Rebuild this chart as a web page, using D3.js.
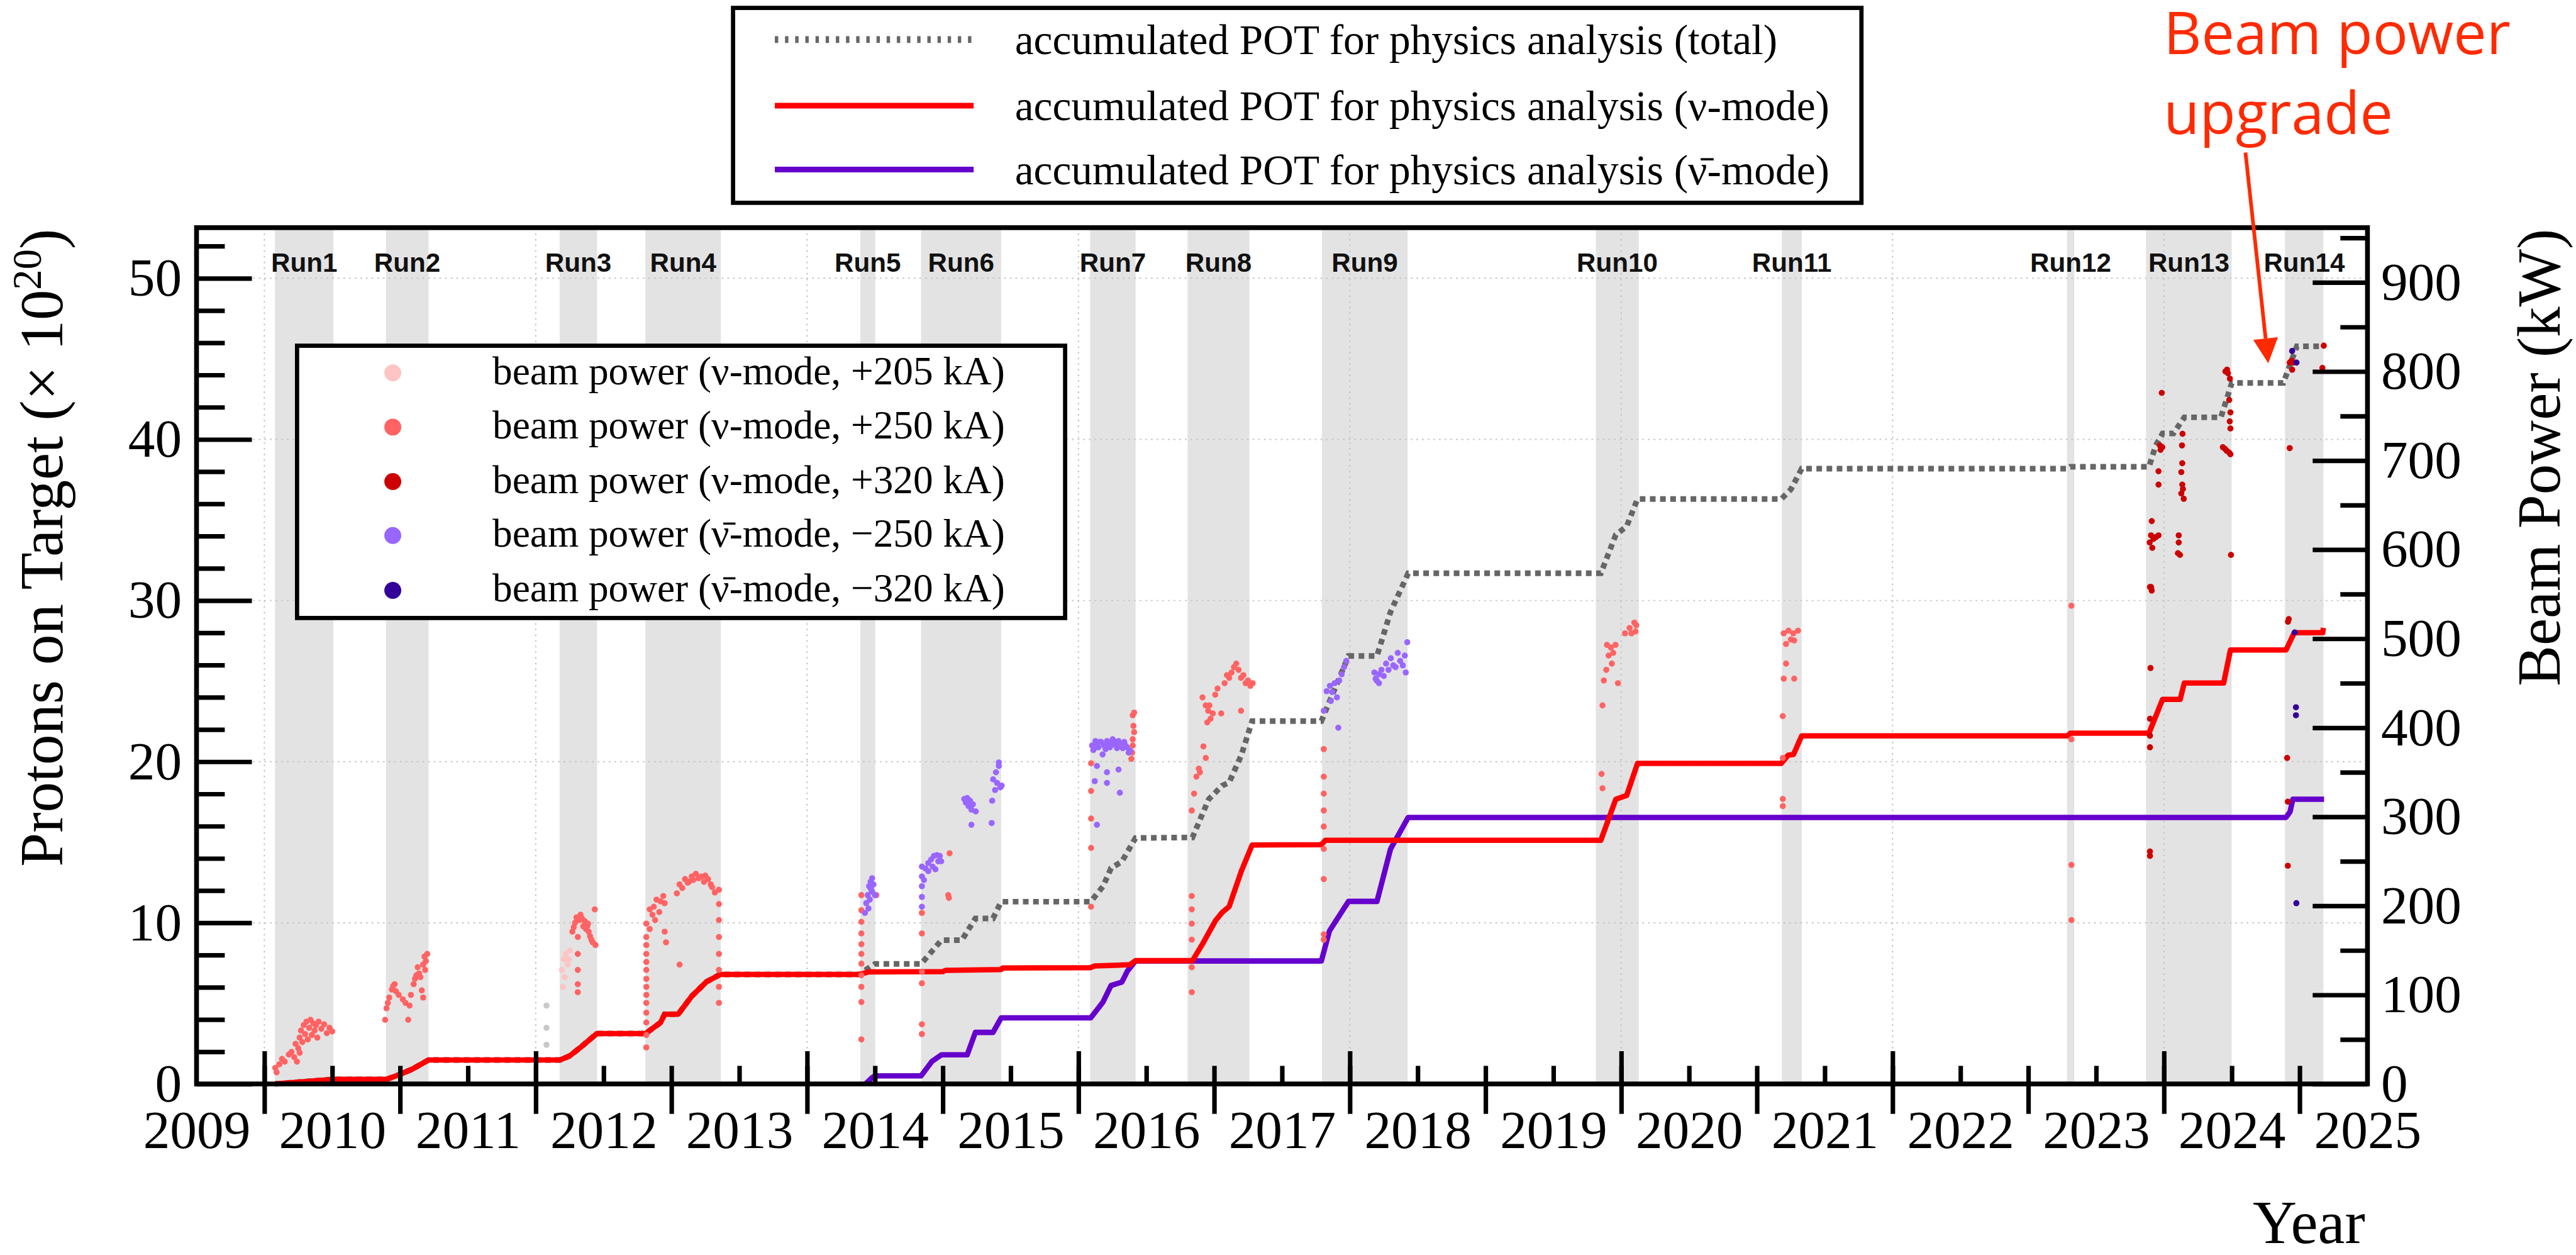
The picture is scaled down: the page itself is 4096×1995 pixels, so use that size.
<!DOCTYPE html>
<html>
<head>
<meta charset="utf-8">
<script src="https://cdn.jsdelivr.net/npm/d3@7"></script>
<style>
  body { margin: 0; background: #fff; }
  svg { display: block; }
</style>
</head>
<body>
<div id="chart"></div>
<script>
// ---- data ----
const runNames  = ["Run1","Run2","Run3","Run4","Run5","Run6","Run7","Run8","Run9","Run10","Run11","Run12","Run13","Run14"];
const runStart  = [2010.078, 2010.896, 2012.176, 2012.808, 2014.392, 2014.840, 2016.086, 2016.804, 2017.794, 2019.813, 2021.184, 2023.286, 2023.868, 2024.892];
const runEnd    = [2010.509, 2011.210, 2012.452, 2013.364, 2014.502, 2015.430, 2016.421, 2017.260, 2018.426, 2020.129, 2021.331, 2023.339, 2024.499, 2025.176];

const yearLabels = [2009,2010,2011,2012,2013,2014,2015,2016,2017,2018,2019,2020,2021,2022,2023,2024,2025];
const potTicks = [0,10,20,30,40,50];
const kwTicks = [0,100,200,300,400,500,600,700,800,900];

// accumulated POT (x 1e20)
const totYear = [2010.08,2010.20,2010.35,2010.51,2010.90,2010.99,2011.09,2011.21,2012.18,2012.25,2012.33,2012.45,2012.81,2012.92,2012.95,2013.05,2013.15,2013.26,2013.36,
  2014.39,2014.42,2014.50,2014.84,2014.99,2015.14,2015.24,2015.37,2015.43,2016.09,2016.18,2016.24,2016.32,2016.42,2016.84,2016.96,2017.06,2017.11,2017.20,2017.28,
  2017.79,2017.99,2018.20,2018.30,2018.43,2019.85,2019.96,2020.04,2020.12,2021.18,2021.25,2021.33,2023.29,2023.31,2023.89,2023.94,2023.99,2024.07,2024.15,
  2024.42,2024.50,2024.88,2024.98,2025.18];
const totPOT  = [0.00,0.08,0.18,0.29,0.29,0.56,0.92,1.49,1.49,1.74,2.27,3.13,3.13,3.81,4.33,4.33,5.45,6.35,6.80,
  6.80,7.00,7.45,7.45,8.92,8.92,10.27,10.27,11.31,11.31,12.25,13.39,13.80,15.26,15.30,17.67,18.52,18.70,20.40,22.52,
  22.52,26.56,26.56,29.30,31.69,31.69,34.08,34.60,36.30,36.30,36.89,38.18,38.18,38.30,38.30,39.63,40.37,40.37,41.37,
  41.37,43.50,43.50,45.78,45.78];

const nuYear = [2010.08,2010.20,2010.35,2010.51,2010.90,2010.99,2011.09,2011.21,2012.18,2012.25,2012.33,2012.45,2012.81,2012.92,2012.95,2013.05,2013.15,2013.26,2013.36,
  2014.39,2014.45,2015.00,2015.02,2015.43,2015.44,2016.09,2016.12,2016.38,2016.42,2016.84,2016.92,2017.01,2017.06,2017.11,2017.20,2017.28,2017.79,2017.82,
  2019.85,2019.96,2020.04,2020.12,2021.18,2021.23,2021.27,2021.33,2023.29,2023.31,2023.89,2023.99,2024.12,2024.15,2024.44,2024.49,2024.90,2024.96,2025.17,2025.175];
const nuPOT  = [0.00,0.08,0.18,0.29,0.29,0.56,0.92,1.49,1.49,1.74,2.27,3.13,3.13,3.81,4.33,4.33,5.45,6.35,6.80,
  6.80,6.95,6.97,7.05,7.10,7.20,7.22,7.32,7.40,7.65,7.65,8.77,10.14,10.65,11.00,13.20,14.83,14.85,15.12,
  15.12,17.67,17.90,19.89,19.89,20.40,20.45,21.60,21.60,21.77,21.77,23.87,23.87,24.88,24.88,26.93,26.93,28.00,28.00,28.30];

const nubarYear = [2014.43,2014.48,2014.50,2014.84,2014.92,2014.99,2015.18,2015.24,2015.37,2015.43,2016.09,2016.18,2016.24,2016.32,2016.36,2016.42,
  2017.79,2017.85,2017.99,2018.20,2018.30,2018.43,2024.90,2024.93,2024.95,2025.18];
const nubarPOT  = [0.00,0.40,0.50,0.50,1.40,1.81,1.81,3.20,3.20,4.10,4.10,5.07,6.11,6.32,7.00,7.63,
  7.63,9.50,11.33,11.33,14.58,16.54,16.54,16.90,17.67,17.67];

// beam power points [year, kW]
const pwOther = [[2012.079,88],[2012.079,63],[2012.079,44]];
const pw205 = [[2012.193,128],[2012.200,109],[2012.207,140],[2012.214,120],[2012.221,146],[2012.235,134],[2012.252,150],[2012.245,140]];
const pw250 = [
  [2010.08,18],[2010.09,13],[2010.11,22],[2010.13,28],[2010.15,25],[2010.18,33],[2010.20,36],[2010.22,30],[2010.23,45],[2010.25,40],[2010.26,52],[2010.27,60],
  [2010.28,47],[2010.29,66],[2010.30,56],[2010.31,70],[2010.32,50],[2010.33,63],[2010.34,72],[2010.35,55],[2010.36,68],[2010.37,60],[2010.38,66],[2010.39,52],
  [2010.40,70],[2010.42,62],[2010.44,67],[2010.46,57],[2010.48,63],[2010.50,59],[2010.26,35],[2010.24,25],
  [2010.89,72],[2010.90,85],[2010.91,91],[2010.92,97],[2010.94,106],[2010.95,110],[2010.96,112],[2010.97,104],[2010.99,100],[2011.02,95],[2011.04,91],[2011.06,72],
  [2011.07,88],[2011.08,100],[2011.10,112],[2011.11,118],[2011.12,122],[2011.13,131],[2011.14,124],[2011.15,120],[2011.17,134],[2011.18,143],[2011.19,138],[2011.20,146],
  [2011.17,97],[2011.16,105],[2011.185,128],
  [2012.27,171],[2012.28,176],[2012.29,181],[2012.30,187],[2012.31,165],[2012.31,146],[2012.31,128],[2012.31,112],[2012.31,103],[2012.32,184],[2012.33,190],[2012.34,186],
  [2012.35,177],[2012.36,183],[2012.37,174],[2012.38,177],[2012.39,171],[2012.40,166],[2012.41,162],[2012.42,159],[2012.44,156],[2012.435,196],[2012.385,180],
  [2012.815,41],[2012.815,55],[2012.815,69],[2012.815,80],[2012.815,91],[2012.815,100],[2012.815,109],[2012.815,118],[2012.815,128],[2012.815,137],[2012.815,146],
  [2012.815,156],[2012.815,165],[2012.815,180],[2012.84,174],[2012.84,196],[2012.86,190],[2012.87,199],[2012.88,184],[2012.89,207],[2012.91,193],[2012.92,205],
  [2012.94,211],[2012.95,203],[2012.95,171],[2012.96,159],[2013.06,134],[2013.04,214],[2013.06,224],[2013.08,220],[2013.10,230],[2013.12,226],[2013.13,227],
  [2013.15,233],[2013.16,229],[2013.18,236],[2013.20,231],[2013.22,233],[2013.24,227],[2013.25,234],[2013.27,230],[2013.29,224],[2013.30,221],[2013.32,215],
  [2013.35,218],[2013.35,202],[2013.35,184],[2013.35,165],[2013.35,146],[2013.35,128],[2013.35,109],[2013.35,91],
  [2014.40,50],[2014.40,92],[2014.40,109],[2014.40,122],[2014.40,135],[2014.40,146],[2014.40,157],[2014.40,169],[2014.40,182],[2014.40,195],[2014.40,212],[2014.51,212],
  [2014.846,56],[2014.846,67],[2014.846,113],[2014.846,126],[2014.846,169],[2014.846,192],[2015.05,259],[2015.04,212],[2015.045,209],
  [2016.093,360],[2016.093,329],[2016.093,298],[2016.093,265],[2016.093,199],[2016.39,365],[2016.395,372],[2016.40,387],[2016.405,402],[2016.40,414],[2016.41,417],
  [2016.41,395],[2016.40,380],
  [2016.835,103],[2016.835,131],[2016.835,162],[2016.835,180],[2016.835,196],[2016.835,211],[2016.835,307],[2016.852,326],[2016.869,345],[2016.887,354],[2016.895,350],
  [2016.921,379],[2016.938,366],[2016.914,434],[2016.938,425],[2016.956,419],[2016.973,410],[2016.990,416],[2016.965,425],[2017.008,437],[2017.025,444],[2017.052,416],
  [2017.077,450],[2017.094,459],[2017.111,456],[2017.128,462],[2017.146,468],[2017.163,472],[2017.180,465],[2017.198,456],[2017.215,459],[2017.232,450],[2017.249,453],
  [2017.267,447],[2017.284,450],[2017.198,419],[2016.949,406],
  [2017.808,376],[2017.808,345],[2017.808,326],[2017.808,307],[2017.808,289],[2017.808,264],[2017.808,230],[2017.808,168],[2017.808,162],
  [2019.862,425],[2019.872,453],[2019.890,465],[2019.907,481],[2019.924,490],[2019.941,484],[2019.958,493],[2019.931,472],[2019.895,493],[2019.976,450],[2019.855,348],
  [2019.862,332],[2020.028,506],[2020.062,512],[2020.076,506],[2020.097,518],[2020.111,515],[2020.105,508],
  [2021.198,506],[2021.233,509],[2021.268,506],[2021.303,509],[2021.250,499],[2021.275,498],[2021.215,494],[2021.215,472],[2021.198,455],[2021.275,455],[2021.191,413],
  [2021.191,366],[2021.191,320],[2021.191,312],
  [2023.318,537],[2023.318,387],[2023.318,246],[2023.318,184]
];
const pw320 = [
  [2023.897,261],[2023.897,256],[2023.897,378],[2023.897,391],[2023.897,410],[2023.901,467],[2023.897,558],[2023.905,558],[2023.910,554],[2023.895,608],[2023.905,616],
  [2023.914,602],[2023.923,612],[2023.941,614],[2023.960,616],[2023.910,632],[2023.960,688],[2023.960,673],[2023.970,717],[2023.975,712],[2023.988,715],[2023.984,776],
  [2024.137,730],[2024.133,717],[2024.135,697],[2024.128,687],[2024.135,673],[2024.128,663],[2024.146,657],[2024.140,668],[2024.109,616],[2024.109,608],[2024.103,596],
  [2024.118,594],
  [2024.453,800],[2024.465,802],[2024.472,798],[2024.486,792],[2024.481,768],[2024.490,754],[2024.485,744],[2024.490,736],[2024.434,715],[2024.450,713],[2024.462,711],
  [2024.480,709],[2024.490,707],[2024.494,594],
  [2024.913,245],[2024.913,317],[2024.908,366],[2024.914,519],[2024.920,522],[2024.927,714],[2024.927,810],[2024.940,812],[2024.955,810],[2024.945,802],[2025.178,829],
  [2025.168,804]
];
const pwM250 = [
  [2014.426,192],[2014.436,203],[2014.447,212],[2014.457,222],[2014.468,227],[2014.479,231],[2014.489,224],[2014.462,207],[2014.479,216],[2014.500,212],[2014.452,197],
  [2014.470,219],
  [2014.846,199],[2014.846,210],[2014.846,222],[2014.846,233],[2014.846,244],[2014.861,229],[2014.872,242],[2014.893,248],[2014.893,239],[2014.914,252],[2014.925,244],
  [2014.935,256],[2014.946,241],[2014.957,257],[2014.967,250],[2014.978,256],[2014.988,250],
  [2015.158,320],[2015.170,316],[2015.180,321],[2015.190,312],[2015.201,318],[2015.211,308],[2015.222,314],[2015.243,306],[2015.211,291],[2015.360,293],[2015.364,318],
  [2015.371,342],[2015.392,350],[2015.400,338],[2015.413,357],[2015.413,361],[2015.424,333],[2015.434,335],[2015.385,330],
  [2016.100,380],[2016.110,375],[2016.125,385],[2016.136,380],[2016.146,378],[2016.157,384],[2016.167,384],[2016.178,370],[2016.188,380],[2016.200,376],[2016.210,385],
  [2016.220,380],[2016.231,378],[2016.242,383],[2016.252,387],[2016.262,381],[2016.273,384],[2016.284,377],[2016.295,385],[2016.305,380],[2016.316,380],[2016.326,377],
  [2016.337,384],[2016.347,380],[2016.358,378],[2016.370,372],[2016.380,374],[2016.136,357],[2016.210,350],[2016.210,338],[2016.295,353],[2016.305,327],[2016.136,291],
  [2016.120,340],
  [2017.808,419],[2017.829,441],[2017.853,447],[2017.870,440],[2017.888,450],[2017.905,434],[2017.915,400],[2017.922,453],[2017.940,460],[2017.957,468],[2017.974,475],
  [2017.860,430],
  [2018.181,462],[2018.190,455],[2018.198,453],[2018.215,460],[2018.233,465],[2018.250,458],[2018.267,472],[2018.285,465],[2018.302,478],[2018.320,470],[2018.337,468],
  [2018.353,484],[2018.371,475],[2018.390,470],[2018.405,481],[2018.412,462],[2018.423,496],[2018.215,450]
];
const pwM320 = [[2024.945,823],[2024.977,810],[2024.964,507],[2024.973,423],[2024.973,414],[2024.976,203]];

const lineLabels = ["accumulated POT for physics analysis (total)",
                    "accumulated POT for physics analysis (\u03BD-mode)",
                    "accumulated POT for physics analysis (\u03BD\u0304-mode)"];
const powerLabels = ["beam power (\u03BD-mode, +205 kA)",
                     "beam power (\u03BD-mode, +250 kA)",
                     "beam power (\u03BD-mode, +320 kA)",
                     "beam power (\u03BD\u0304-mode, \u2212250 kA)",
                     "beam power (\u03BD\u0304-mode, \u2212320 kA)"];

// ---- layout (reference pixels scaled by S) ----
const S = 0.898;
const s = v => v * S;
const W = s(4557), H = s(2219);
const pL = s(348), pR = s(4192), pT = s(403), pB = s(1918.8);
const serif = "'Liberation Serif', 'Times New Roman', serif";
const sans = "'Liberation Sans', Arial, sans-serif";

const svg = d3.select("#chart").append("svg")
              .attr("width", W)
              .attr("height", H);

const x = d3.scaleLinear().domain([2009.5, 2025.5]).range([pL, pR]);
const yL = d3.scaleLinear().domain([0, 53.14]).range([pB, pT]);
const yR = d3.scaleLinear().domain([0, 961.5]).range([pB, pT]);

// run bands
svg.append("g").selectAll("rect")
   .data(runNames)
   .enter()
   .append("rect")
   .attr("x", (d, i) => x(runStart[i]))
   .attr("width", (d, i) => x(runEnd[i]) - x(runStart[i]))
   .attr("y", pT)
   .attr("height", pB - pT)
   .attr("fill", "#e3e3e3");

// dotted grid
const grid = svg.append("g")
                .attr("stroke", "#c4c4c4")
                .attr("stroke-width", s(2.2))
                .attr("stroke-dasharray", `${s(3)},${s(7)}`);
grid.selectAll("line.h")
    .data(potTicks.slice(1))
    .enter()
    .append("line")
    .attr("x1", pL).attr("x2", pR)
    .attr("y1", d => yL(d)).attr("y2", d => yL(d));
grid.selectAll("line.v")
    .data(yearLabels.filter(d => d % 2 === 0 && d > 2009 && d < 2025))
    .enter()
    .append("line")
    .attr("x1", d => x(d)).attr("x2", d => x(d))
    .attr("y1", pT).attr("y2", pB);

// accumulated POT lines
const line = d3.line().x(d => x(d[0])).y(d => yL(d[1]));
const zip = (a, b) => a.map((v, i) => [v, b[i]]);
svg.append("path")
   .datum(zip(totYear, totPOT))
   .attr("d", line)
   .attr("fill", "none")
   .attr("stroke", "#666666")
   .attr("stroke-width", s(10))
   .attr("stroke-dasharray", `${s(10)},${s(8)}`);
svg.append("path")
   .datum(zip(nubarYear, nubarPOT))
   .attr("d", line)
   .attr("fill", "none")
   .attr("stroke", "#6600cc")
   .attr("stroke-width", s(9.5))
   .attr("stroke-linejoin", "round");
svg.append("path")
   .datum(zip(nuYear, nuPOT))
   .attr("d", line)
   .attr("fill", "none")
   .attr("stroke", "#ff0000")
   .attr("stroke-width", s(9.5))
   .attr("stroke-linejoin", "round");

// beam power points
const powerSets = [
  {data: pwOther, color: "#c8c8c8"},
  {data: pw205, color: "#ffc4c4"},
  {data: pw250, color: "#ff6363"},
  {data: pwM250, color: "#9966ff"},
  {data: pw320, color: "#cc0000"},
  {data: pwM320, color: "#330099"}
];
powerSets.forEach(set => {
  svg.append("g").selectAll("circle")
     .data(set.data)
     .enter()
     .append("circle")
     .attr("cx", d => x(d[0]))
     .attr("cy", d => yR(d[1]))
     .attr("r", s(5.4))
     .attr("fill", set.color);
});

// axes
const tickW = s(8);
function styleAxis(g) {
  g.select(".domain").remove();
  g.selectAll(".tick line").attr("stroke", "#000").attr("stroke-width", tickW);
  g.attr("font-family", serif).attr("font-size", s(95)).attr("fill", "#000");
  g.selectAll(".tick text").attr("fill", "#000");
}
svg.append("g")
   .attr("transform", `translate(${pL},0)`)
   .call(d3.axisLeft(yL).tickValues(potTicks).tickSize(-s(98)).tickPadding(s(26)).tickFormat(d3.format("d")))
   .call(styleAxis);
svg.append("g")
   .attr("transform", `translate(${pL},0)`)
   .call(d3.axisLeft(yL).tickValues(d3.range(2, 53, 2).filter(d => d % 10)).tickSize(-s(50)).tickFormat(""))
   .call(styleAxis);
svg.append("g")
   .attr("transform", `translate(${pR},0)`)
   .call(d3.axisRight(yR).tickValues(kwTicks).tickSize(-s(97)).tickPadding(s(24)).tickFormat(d3.format("d")))
   .call(styleAxis);
svg.append("g")
   .attr("transform", `translate(${pR},0)`)
   .call(d3.axisRight(yR).tickValues(d3.range(50, 961, 100)).tickSize(-s(48)).tickFormat(""))
   .call(styleAxis);
// x axis: ticks inside every half year (longer on even years), outside every Jan 1
const halfYears = d3.range(2010, 2025.01, 0.5);
svg.append("g")
   .attr("transform", `translate(0,${pB})`)
   .call(d3.axisBottom(x).tickValues(halfYears).tickSize(-s(32)).tickFormat(""))
   .call(styleAxis);
svg.append("g")
   .attr("transform", `translate(0,${pB})`)
   .call(d3.axisBottom(x).tickValues(yearLabels.filter(d => d % 2 === 0 && d > 2009 && d < 2025)).tickSize(-s(58)).tickFormat(""))
   .call(styleAxis);
svg.append("g")
   .attr("transform", `translate(0,${pB})`)
   .call(d3.axisBottom(x).tickValues(yearLabels.slice(1)).tickSize(s(53)).tickFormat(""))
   .call(styleAxis);
svg.append("g")
   .attr("transform", `translate(0,${pB})`)
   .call(d3.axisBottom(x).tickValues(yearLabels.map(d => d + 0.5)).tickSize(0).tickPadding(s(46)).tickFormat(d => String(Math.floor(d))))
   .call(styleAxis);

// frame
svg.append("rect")
   .attr("x", pL).attr("y", pT)
   .attr("width", pR - pL).attr("height", pB - pT)
   .attr("fill", "none")
   .attr("stroke", "#000")
   .attr("stroke-width", s(8.5));

// run labels
svg.append("g").selectAll("text")
   .data(runNames)
   .enter()
   .append("text")
   .attr("x", (d, i) => x((runStart[i] + runEnd[i]) / 2))
   .attr("y", s(481))
   .attr("text-anchor", "middle")
   .attr("font-family", sans)
   .attr("font-weight", "bold")
   .attr("font-size", s(47))
   .attr("fill", "#111")
   .text(d => d);

// axis titles
const yTitle = svg.append("text")
   .attr("transform", `translate(${s(110)},${s(405)}) rotate(-90)`)
   .attr("text-anchor", "end")
   .attr("font-family", serif)
   .attr("font-size", s(108));
yTitle.append("tspan").text("Protons on Target (\u00D7 10");
yTitle.append("tspan").attr("dy", -s(38)).attr("font-size", s(72)).text("20");
yTitle.append("tspan").attr("dy", s(38)).text(")");
svg.append("text")
   .attr("transform", `translate(${s(4532)},${s(405)}) rotate(-90)`)
   .attr("text-anchor", "end")
   .attr("font-family", serif)
   .attr("font-size", s(108))
   .text("Beam Power (kW)");
svg.append("text")
   .attr("x", s(4188)).attr("y", s(2200))
   .attr("text-anchor", "end")
   .attr("font-family", serif)
   .attr("font-size", s(108))
   .text("Year");

// top legend (lines)
const lg = svg.append("g");
lg.append("rect")
  .attr("x", s(1298)).attr("y", s(14))
  .attr("width", s(3296 - 1298)).attr("height", s(359 - 14))
  .attr("fill", "#fff").attr("stroke", "#000").attr("stroke-width", s(7.5));
const lineStyles = [
  {stroke: "#666666", width: s(12), dash: `${s(6)},${s(12)}`},
  {stroke: "#ff0000", width: s(10), dash: null},
  {stroke: "#6600cc", width: s(10), dash: null}
];
const lineRows = [70, 187, 300];
lineLabels.forEach((label, i) => {
  lg.append("line")
    .attr("x1", s(1372)).attr("x2", s(1724))
    .attr("y1", s(lineRows[i])).attr("y2", s(lineRows[i]))
    .attr("stroke", lineStyles[i].stroke)
    .attr("stroke-width", lineStyles[i].width)
    .attr("stroke-dasharray", lineStyles[i].dash);
  lg.append("text")
    .attr("x", s(1797)).attr("y", s(lineRows[i] + 26))
    .attr("font-family", serif)
    .attr("font-size", s(75))
    .text(label);
});

// left legend (beam power)
const pg = svg.append("g");
pg.append("rect")
  .attr("x", s(526)).attr("y", s(612))
  .attr("width", s(1886 - 526)).attr("height", s(1094 - 612))
  .attr("fill", "#fff").attr("stroke", "#000").attr("stroke-width", s(7.5));
const powerColors = ["#ffc4c4", "#ff6363", "#cc0000", "#9966ff", "#330099"];
const powerRows = [660, 756, 852.5, 948, 1045];
powerLabels.forEach((label, i) => {
  pg.append("circle")
    .attr("cx", s(695.5)).attr("cy", s(powerRows[i]))
    .attr("r", s(15))
    .attr("fill", powerColors[i]);
  pg.append("text")
    .attr("x", s(872)).attr("y", s(powerRows[i] + 20))
    .attr("font-family", serif)
    .attr("font-size", s(70.5))
    .text(label);
});

// annotation
const annFont = "'Open Sans', Lato, sans-serif";
const ann = svg.append("g").attr("fill", "#ff2a00");
ann.append("text")
   .attr("x", s(3831)).attr("y", s(96))
   .attr("font-family", annFont)
   .attr("font-size", s(104))
   .text("Beam power");
ann.append("text")
   .attr("x", s(3831)).attr("y", s(237))
   .attr("font-family", annFont)
   .attr("font-size", s(104))
   .text("upgrade");
const ax1 = s(3976), ay1 = s(270), ax2 = s(4016.4), ay2 = s(643);
const ang = Math.atan2(ay2 - ay1, ax2 - ax1);
const hl = s(44), hw = s(22);
const bx = ax2 - hl * Math.cos(ang), by = ay2 - hl * Math.sin(ang);
ann.append("line")
   .attr("x1", ax1).attr("y1", ay1).attr("x2", bx).attr("y2", by)
   .attr("stroke", "#ff2a00").attr("stroke-width", s(6.5));
ann.append("polygon")
   .attr("points", [
     [ax2, ay2],
     [bx + hw * Math.sin(ang), by - hw * Math.cos(ang)],
     [bx - hw * Math.sin(ang), by + hw * Math.cos(ang)]
   ].map(p => p.join(",")).join(" "));
</script>
</body>
</html>
